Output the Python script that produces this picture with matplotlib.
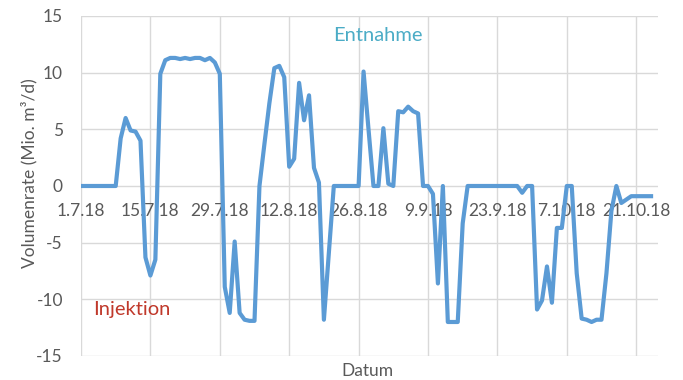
import matplotlib
matplotlib.use("Agg")
import matplotlib.pyplot as plt
import numpy as np
import pandas as pd

plt.rcParams['font.family'] = ['Lato', 'DejaVu Sans']
plt.rcParams['axes.unicode_minus'] = False

# daily volume rate, Mio. m3/d, starting 1.7.2018
rate = [0, 0, 0, 0, 0, 0, 0, 0, 4.2, 6.0,
        4.9, 4.8, 4.0, -6.3, -7.9, -6.5, 9.9, 11.1, 11.3, 11.3,
        11.2, 11.3, 11.2, 11.3, 11.3, 11.1, 11.3, 10.9, 9.9, -8.9,
        -11.2, -4.9, -11.2, -11.8, -11.9, -11.9, 0, 3.7, 7.3, 10.4,
        10.6, 9.6, 1.7, 2.4, 9.1, 5.8, 8.0, 1.6, 0.3, -11.8,
        -5.9, 0, 0, 0, 0, 0, 0, 10.1, 5.0, 0,
        0, 5.1, 0.2, 0, 6.6, 6.5, 7.0, 6.6, 6.4, 0,
        0, -0.7, -8.6, 0, -12.0, -12.0, -12.0, -3.3, 0, 0,
        0, 0, 0, 0, 0, 0, 0, 0, 0, -0.6,
        0, 0, -10.9, -10.1, -7.1, -10.3, -3.7, -3.7, 0, 0,
        -7.7, -11.7, -11.8, -12.0, -11.8, -11.8, -7.7, -2.2, 0, -1.5,
        -1.2, -0.9, -0.9, -0.9, -0.9, -0.9]
dates = pd.date_range("2018-07-01", periods=len(rate), freq="D")

tick_dates = pd.date_range("2018-07-01", "2018-10-21", freq="14D")
tick_labels = ["1.7.18", "15.7.18", "29.7.18", "12.8.18", "26.8.18",
               "9.9.18", "23.9.18", "7.10.18", "21.10.18"]

grey = "#595959"

fig = plt.figure(figsize=(6.83, 3.80), dpi=100)
ax = fig.add_axes([0.1186, 0.0632, 0.8448, 0.8947])

ax.plot(dates, rate, color="#5B9BD5", lw=3, solid_joinstyle="round", zorder=3)

ax.set_ylim(-15, 15)
ax.set_yticks(np.arange(-15, 16, 5))
ax.set_xlim(dates[0], dates[0] + pd.Timedelta(days=116.4))
ax.set_xticks(tick_dates)
ax.set_xticklabels(tick_labels)

ax.grid(True, color="#D9D9D9", lw=1)
ax.set_axisbelow(True)
for s in ax.spines.values():
    s.set_visible(False)
ax.spines['bottom'].set_position(('data', 0))
ax.tick_params(length=0, colors=grey, labelsize=12.5)
ax.tick_params(axis='x', pad=12)
ax.tick_params(axis='y', pad=13)

ax.set_ylabel("Volumenrate (Mio. m³/d)", color=grey, fontsize=12.5)
ax.yaxis.set_label_coords(-0.076, 0.537)
ax.set_xlabel("Datum", color=grey, fontsize=12.5)
ax.xaxis.set_label_coords(0.496, -0.022)

ax.text(dates[0] + pd.Timedelta(days=59.8), 13.3, "Entnahme", color="#4BACC6",
        fontsize=14.5, ha="center", va="center")
ax.text(dates[0] + pd.Timedelta(days=10.3), -10.9, "Injektion", color="#C0392B",
        fontsize=14.5, ha="center", va="center")

fig.savefig("out.png", dpi=100)
